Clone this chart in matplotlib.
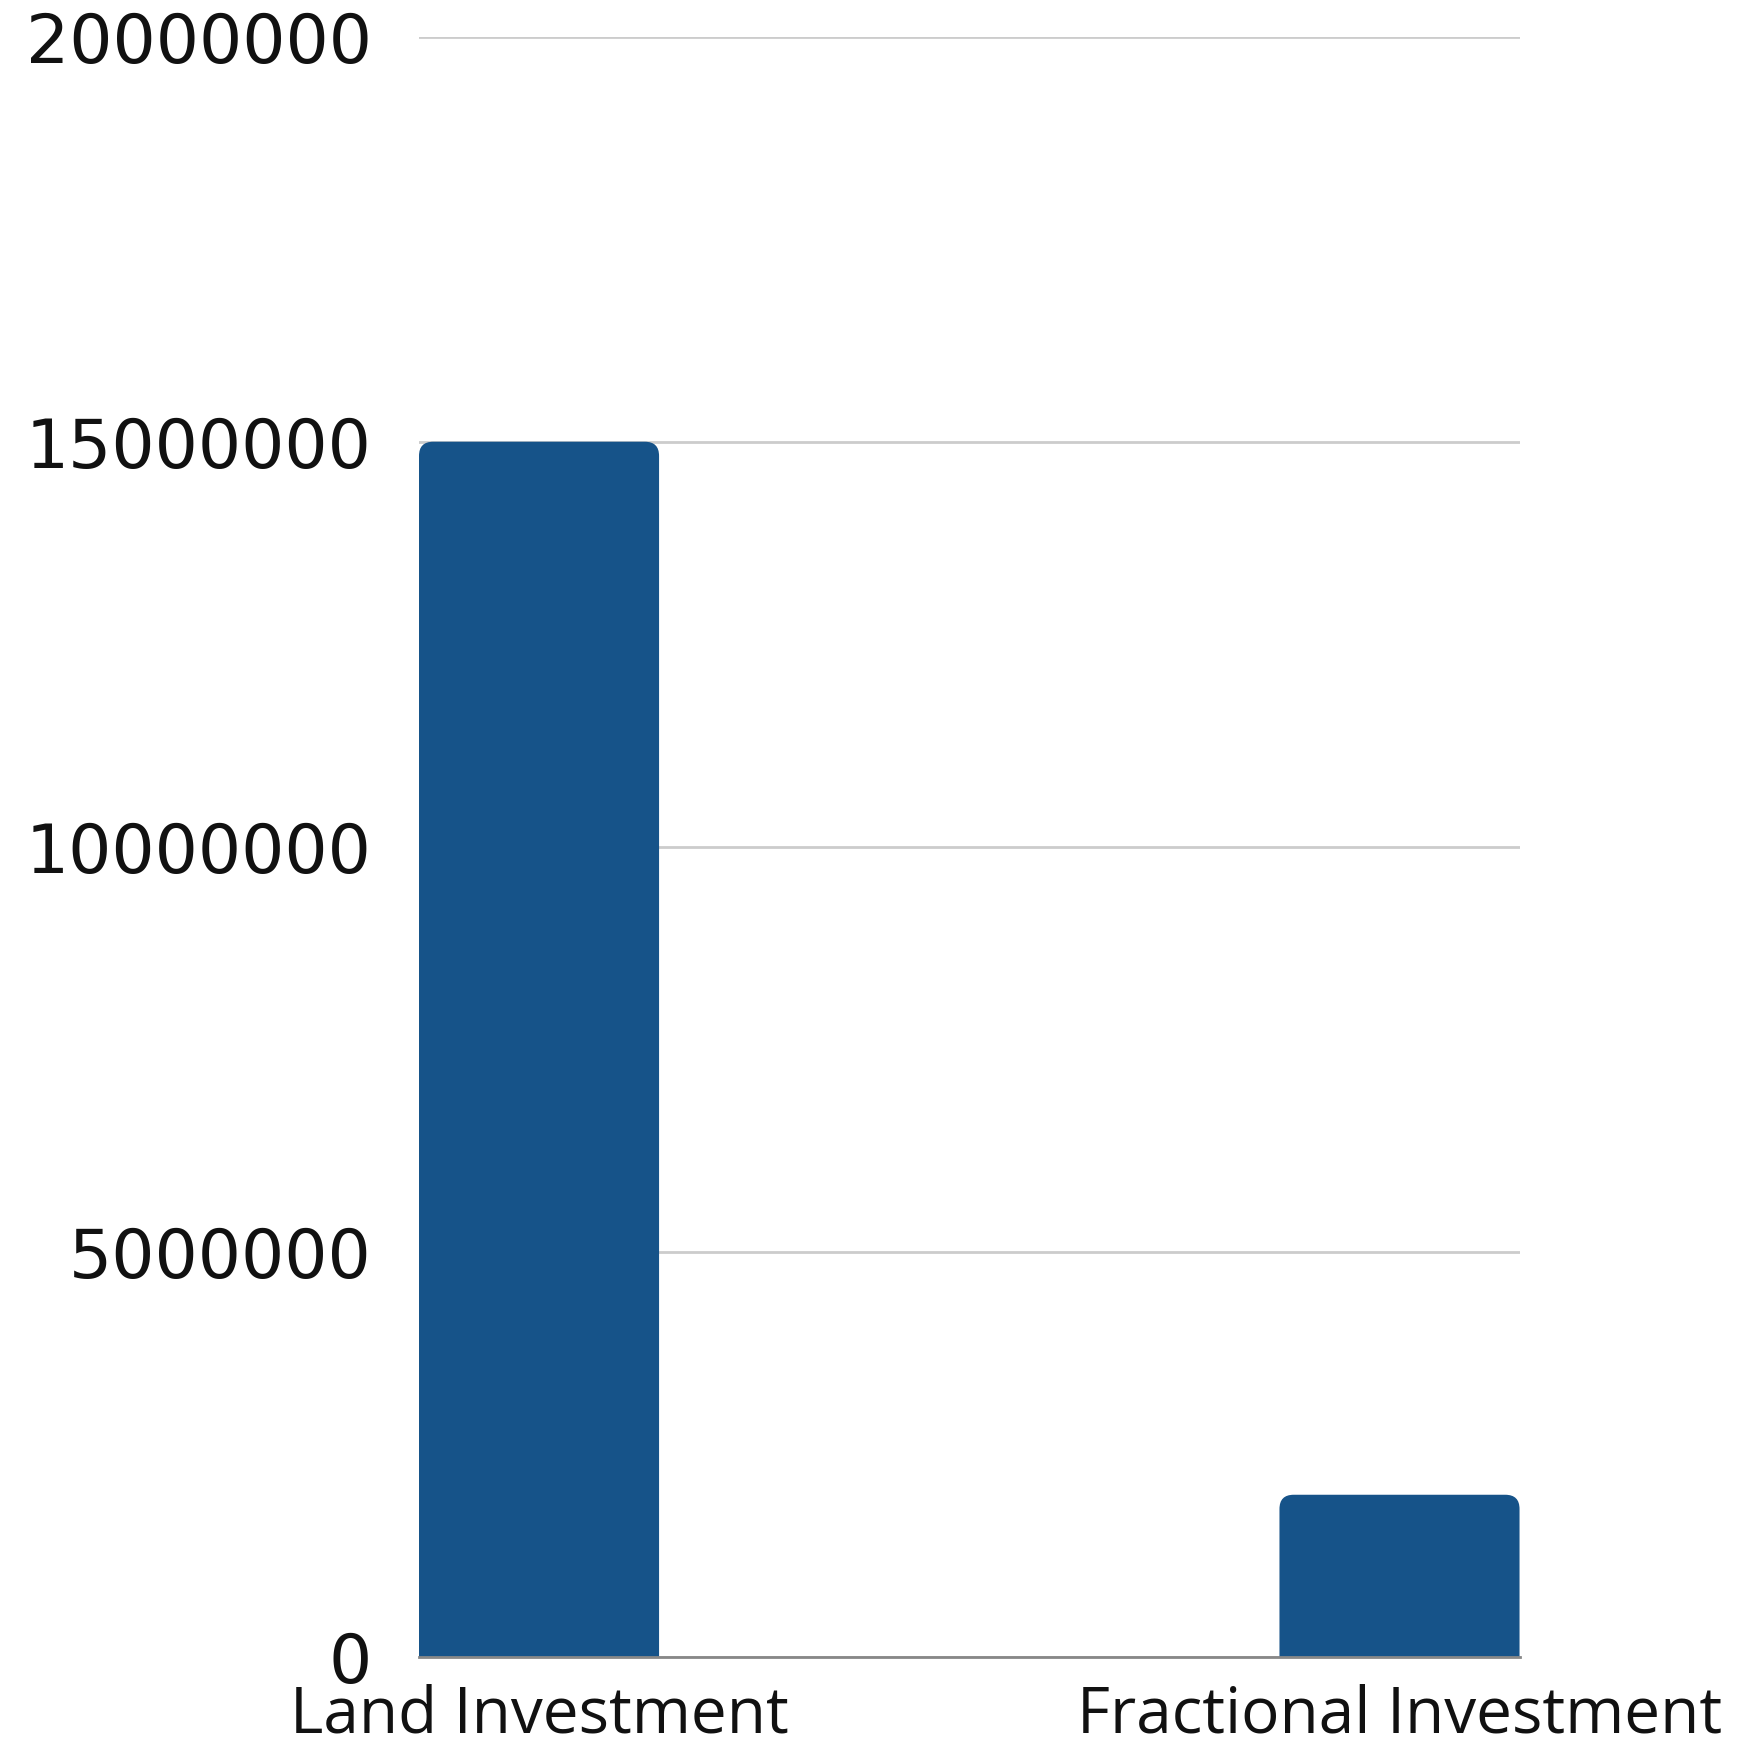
import matplotlib
matplotlib.use('Agg')
import matplotlib.pyplot as plt
from matplotlib.patches import FancyBboxPatch

# chart data
categories = ['Land Investment', 'Fractional Investment']
values = [15000000, 2000000]
yticks = [0, 5000000, 10000000, 15000000, 20000000]

bar_color = '#165389'
grid_color = '#cccccc'

plt.rcParams['font.family'] = ['Open Sans', 'DejaVu Sans']

fig = plt.figure(figsize=(17.48, 17.48), dpi=100)
ax = fig.add_axes([0.2397, 0.0522, 0.6296, 0.9268])

bar_width = 0.279
bars = ax.bar(range(len(categories)), values, width=bar_width, color=bar_color, zorder=2)

ax.set_xlim(-bar_width / 2, len(categories) - 1 + bar_width / 2)
ax.set_ylim(0, yticks[-1])

# swap plain rectangles for ones with rounded top corners
rx = 0.0165
ry = 175000
for b in bars:
    x, w, h = b.get_x(), b.get_width(), b.get_height()
    b.set_visible(False)
    patch = FancyBboxPatch((x, -ry), w, h + ry,
                           boxstyle='round,pad=0,rounding_size=%f' % rx,
                           mutation_aspect=ry / rx,
                           facecolor=bar_color, edgecolor='none', zorder=2)
    ax.add_patch(patch)

ax.set_yticks(yticks)
ax.set_yticklabels([str(t) for t in yticks], family='DejaVu Sans')
ax.set_xticks(range(len(categories)))
ax.set_xticklabels(categories)

ax.yaxis.grid(True, color=grid_color, linewidth=2)
ax.set_axisbelow(True)

for side in ['top', 'right', 'left']:
    ax.spines[side].set_visible(False)
ax.spines['bottom'].set_color('#888888')
ax.spines['bottom'].set_linewidth(2)
ax.spines['bottom'].set_zorder(3)

ax.tick_params(axis='y', length=0, pad=34, labelsize=49, labelcolor='#111111')
ax.tick_params(axis='x', length=0, pad=19, labelsize=46, labelcolor='#111111')

fig.savefig('out.png', dpi=100)
